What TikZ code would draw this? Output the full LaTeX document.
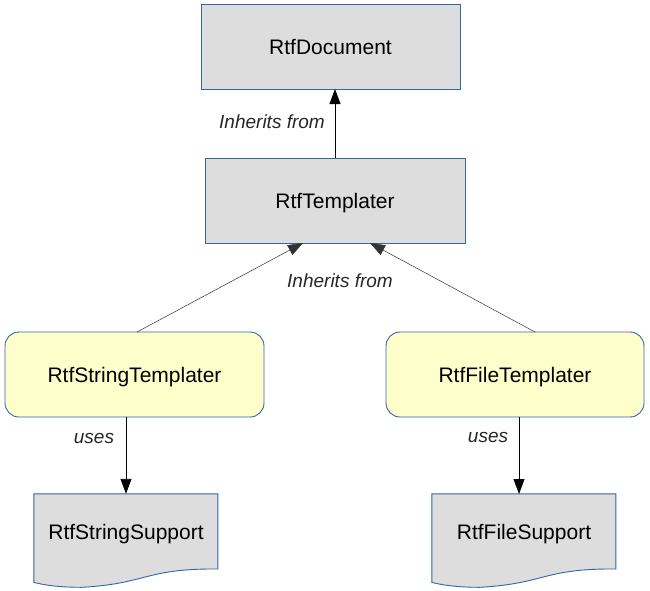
\documentclass[tikz,border=0pt]{standalone}
\usepackage{fontspec}
\setmainfont{Liberation Sans}
\usetikzlibrary{arrows.meta,backgrounds}
\definecolor{boxgray}{HTML}{DDDDDD}
\definecolor{boxblue}{HTML}{3465A4}
\definecolor{boxyellow}{HTML}{FFFFCC}
\tikzset{
  boxfont/.style={font=\fontsize{21}{24}\selectfont, text height=15pt, text depth=0pt},
  classbox/.style={draw=boxblue, fill=boxgray, line width=0.9pt, minimum width=259pt, minimum height=85pt, inner sep=0pt, boxfont},
  implbox/.style={draw=boxblue, fill=boxyellow, line width=0.9pt, rounded corners=14pt, minimum width=259pt, minimum height=85pt, inner sep=0pt, boxfont},
  supportbox/.style={draw=none, minimum width=184pt, minimum height=76pt, inner sep=0pt, boxfont},
  docpath/.style={draw=boxblue, fill=boxgray, line width=0.9pt},
  conn/.style={-{Triangle[length=15pt,width=11pt]}, line width=0.9pt},
  thinconn/.style={-{Triangle[length=15pt,width=11pt]}, line width=0.5pt, draw=black!80},
  lbl/.style={font=\fontsize{19}{22}\selectfont\itshape, inner sep=0pt, text=black!85}
}
\begin{document}
\begin{tikzpicture}[x=1pt,y=-1pt]
\useasboundingbox (0,0) rectangle (650,590);
\node[classbox] (doc) at (330.5,46.5) {RtfDocument};
\node[classbox, minimum width=260pt] (tmpl) at (335,200.5) {RtfTemplater};
\node[implbox] (strT) at (134.5,374.5) {RtfStringTemplater};
\node[implbox, minimum width=258pt] (fileT) at (515,374.5) {RtfFileTemplater};
\node[supportbox] (strS) at (126,532) {RtfStringSupport};
\node[supportbox] (fileS) at (524,532) {RtfFileSupport};
\begin{scope}[on background layer]
\foreach \n in {strS,fileS}{
  \draw[docpath, shift={(\n.north west)}]
    (0,0) -- (184,0) -- (184,75.2)
    .. controls (111.2,74.5) and (113.6,89.9) .. (47.9,93.5)
    .. controls (22.8,93.5) and (9.0,90.8) .. (0,88.6) -- cycle;
}
\end{scope}
\coordinate (docin) at (335,89);
\coordinate (tmplL) at (303,243);
\coordinate (tmplR) at (370,243);
\coordinate (strTtop) at (137,332);
\coordinate (fileTtop) at (535,332);
\draw[conn] (tmpl.north) -- (docin);
\draw[thinconn] (strTtop) -- (tmplL);
\draw[thinconn] (fileTtop) -- (tmplR);
\draw[conn] (strT.south -| strS.north) -- (strS.north);
\coordinate (fileSin) at (519,494);
\draw[conn] (fileT.south -| fileSin) -- (fileSin);
\node[lbl] (l1) at (272,121.5) {Inherits from};
\node[lbl] (l2) at (340,280.5) {Inherits from};
\node[lbl] (l3) at (94,438.5) {uses};
\node[lbl] (l4) at (488,437.5) {uses};
\end{tikzpicture}
\end{document}
